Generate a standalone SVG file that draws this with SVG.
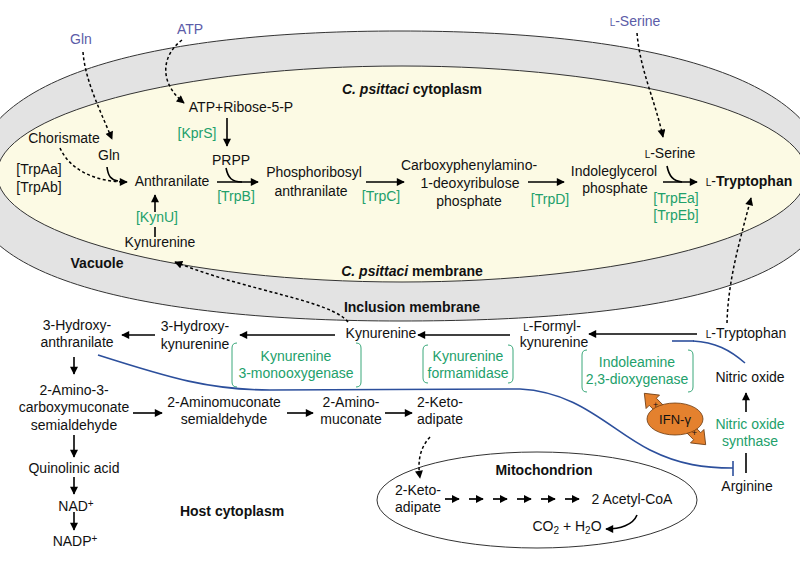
<svg xmlns="http://www.w3.org/2000/svg" width="800" height="566" viewBox="0 0 800 566">
<defs>
<marker id="ah" viewBox="0 0 10 10" refX="9" refY="5" markerWidth="9" markerHeight="8" markerUnits="userSpaceOnUse" orient="auto"><path d="M0,0 L10,5 L0,10 z" fill="#000"/></marker>
<marker id="ahs" viewBox="0 0 10 10" refX="9" refY="5" markerWidth="8" markerHeight="8" markerUnits="userSpaceOnUse" orient="auto"><path d="M0,0 L10,5 L0,10 z" fill="#000"/></marker>
</defs>
<style>
text{font-family:"Liberation Sans",Arial,sans-serif;font-size:14px;fill:#111;text-anchor:middle}
.b{font-weight:bold}
.g{fill:#22a06b}
.p{fill:#5c5ca8}
.sc{font-size:10px}
.ar{stroke:#000;stroke-width:1.6;fill:none;marker-end:url(#ah)}
.ln{stroke:#000;stroke-width:1.6;fill:none}
.ds{stroke:#000;stroke-width:1.5;fill:none;stroke-dasharray:3 2.5;marker-end:url(#ah)}
.br{stroke:#3aa87a;stroke-width:1;fill:none}
.bl{stroke:#2c4f9c;stroke-width:1.6;fill:none}
.ifn{fill:#e4812e;stroke:#6b3a10;stroke-width:0.8}
</style>
<rect width="800" height="566" fill="#fff"/>
<g id="vacuole">
<path d="M -30,188 C -30,70 170,31 400,31 C 630,31 830,70 830,188 C 830,290 640,321 400,321 C 170,321 -30,285 -30,188 Z" fill="#e3e3e3" stroke="#333" stroke-width="1"/>
<ellipse cx="402" cy="174" rx="405" ry="108" fill="#fcfae4" stroke="#333" stroke-width="1"/>
<text class="b" x="97" y="268">Vacuole</text>
<text class="b" x="412" y="312">Inclusion membrane</text>
<text class="b" x="412" y="94"><tspan font-style="italic">C. psittaci</tspan> cytoplasm</text>
<text class="b" x="412" y="276"><tspan font-style="italic">C. psittaci</tspan> membrane</text>
</g>
<g id="mitochondrion">
<ellipse cx="537" cy="500" rx="160" ry="48" fill="#fff" stroke="#333" stroke-width="1"/>
<text class="b" x="544" y="475">Mitochondrion</text>
</g>
<g id="ext-gln"><text class="p" x="81" y="44">Gln</text></g>
<g id="ext-atp"><text class="p" x="190" y="34">ATP</text></g>
<g id="ext-serine"><text class="p" x="635" y="26"><tspan class="sc">L</tspan>-Serine</text></g>
<g id="atp-ribose"><text x="241" y="112">ATP+Ribose-5-P</text></g>
<g id="kprs"><text class="g" x="197" y="138">[KprS]</text></g>
<g id="chorismate"><text x="64" y="143">Chorismate</text></g>
<g id="gln"><text x="109" y="160">Gln</text></g>
<g id="trpa"><text x="39" y="174">[TrpAa]</text><text x="39" y="192">[TrpAb]</text></g>
<g id="anthranilate"><text x="172" y="186">Anthranilate</text></g>
<g id="prpp"><text x="231" y="165">PRPP</text></g>
<g id="trpb"><text class="g" x="236" y="201">[TrpB]</text></g>
<g id="pr-anthranilate"><text x="314" y="177">Phosphoribosyl</text><text x="311" y="196">anthranilate</text></g>
<g id="trpc"><text class="g" x="381" y="201">[TrpC]</text></g>
<g id="cdrp"><text x="469" y="170">Carboxyphenylamino-</text><text x="470" y="188">1-deoxyribulose</text><text x="469" y="206">phosphate</text></g>
<g id="trpd"><text class="g" x="550" y="204">[TrpD]</text></g>
<g id="igp"><text x="614" y="176">Indoleglycerol</text><text x="615" y="193">phosphate</text></g>
<g id="serine"><text x="670" y="158"><tspan class="sc">L</tspan>-Serine</text></g>
<g id="tryptophan-c"><text x="749" y="186"><tspan class="sc">L</tspan>-<tspan class="b">Tryptophan</tspan></text></g>
<g id="trpe"><text class="g" x="676" y="203">[TrpEa]</text><text class="g" x="676" y="220">[TrpEb]</text></g>
<g id="kynu"><text class="g" x="157" y="222">[KynU]</text></g>
<g id="kynurenine-c"><text x="160" y="247">Kynurenine</text></g>
<g id="hydroxyanthranilate"><text x="77" y="330">3-Hydroxy-</text><text x="77" y="347">anthranilate</text></g>
<g id="hydroxykynurenine"><text x="195" y="331">3-Hydroxy-</text><text x="195" y="349">kynurenine</text></g>
<g id="kynurenine-h"><text x="381" y="338">Kynurenine</text></g>
<g id="formylkynurenine"><text x="552" y="331"><tspan class="sc">L</tspan>-Formyl-</text><text x="554" y="347">kynurenine</text></g>
<g id="tryptophan-h"><text x="746" y="338"><tspan class="sc">L</tspan>-Tryptophan</text></g>
<g id="kmo">
<path class="br" d="M237,343 Q232,343 232,348 L232,382 Q232,387 237,387 M356,343 Q361,343 361,348 L361,382 Q361,387 356,387"/>
<text class="g" x="296" y="361">Kynurenine</text><text class="g" x="296" y="378">3-monooxygenase</text>
</g>
<g id="kfa">
<path class="br" d="M428,345 Q423,345 423,350 L423,378 Q423,383 428,383 M508,345 Q513,345 513,350 L513,378 Q513,383 508,383"/>
<text class="g" x="468" y="361">Kynurenine</text><text class="g" x="468" y="378">formamidase</text>
</g>
<g id="ido">
<path class="br" d="M587,350 Q582,350 582,355 L582,387 Q582,392 587,392 M688,350 Q693,350 693,355 L693,387 Q693,392 688,392"/>
<text class="g" x="637" y="367">Indoleamine</text><text class="g" x="637" y="384">2,3-dioxygenase</text>
</g>
<g id="nitric-oxide"><text x="750" y="382">Nitric oxide</text></g>
<g id="nos"><text class="g" x="750" y="429">Nitric oxide</text><text class="g" x="750" y="446">synthase</text></g>
<g id="arginine"><text x="747" y="491">Arginine</text></g>
<g id="ifn">
<g transform="translate(662,411) rotate(-135)"><polygon class="ifn" points="0,-5 13,-5 13,-9.5 25,0 13,9.5 13,5 0,5"/><text x="9" y="3" transform="rotate(135 9 0)" style="font-size:9px">+</text></g>
<g transform="translate(688,427) rotate(45)"><polygon class="ifn" points="0,-5 13,-5 13,-9.5 25,0 13,9.5 13,5 0,5"/><text x="9" y="3" transform="rotate(-45 9 0)" style="font-size:9px">+</text></g>
<ellipse class="ifn" cx="675" cy="419" rx="28" ry="16"/>
<text x="675" y="424" style="font-size:13px">IFN-γ</text>
</g>
<g id="amino-carboxymuconate"><text x="74" y="395">2-Amino-3-</text><text x="74" y="412">carboxymuconate</text><text x="74" y="430">semialdehyde</text></g>
<g id="aminomuconate-sa"><text x="224" y="407">2-Aminomuconate</text><text x="224" y="424">semialdehyde</text></g>
<g id="aminomuconate"><text x="351" y="407">2-Amino-</text><text x="351" y="424">muconate</text></g>
<g id="ketoadipate-h"><text x="440" y="407">2-Keto-</text><text x="440" y="424">adipate</text></g>
<g id="quinolinic"><text x="74" y="473">Quinolinic acid</text></g>
<g id="nad"><text x="76" y="511">NAD<tspan dy="-4" style="font-size:10px">+</tspan></text></g>
<g id="nadp"><text x="75" y="546">NADP<tspan dy="-4" style="font-size:10px">+</tspan></text></g>
<g id="host-label"><text class="b" x="232" y="516">Host cytoplasm</text></g>
<g id="ketoadipate-m"><text x="418" y="495">2-Keto-</text><text x="418" y="512">adipate</text></g>
<g id="acetylcoa"><text x="632" y="504">2 Acetyl-CoA</text></g>
<g id="co2"><text x="567" y="531">CO<tspan dy="3" style="font-size:10px">2</tspan><tspan dy="-3"> + H</tspan><tspan dy="3" style="font-size:10px">2</tspan><tspan dy="-3">O</tspan></text></g>
<g id="connectors">
<path class="ds" d="M83,52 C85,80 100,110 112,139"/>
<path class="ds" d="M182,40 C162,55 158,82 184,103"/>
<path class="ds" d="M637,33 C640,70 655,100 663,137"/>
<path class="ds" d="M727,323 C728,280 740,240 751,198"/>
<path class="ds" d="M348,322 C330,300 250,292 175,262"/>
<path class="ds" d="M60,148 C70,170 95,182 127,182"/>
<path class="ds" d="M430,437 C418,450 418,465 420,478"/>
<path class="ar" d="M227,118 L227,146"/>
<path class="ln" d="M107,167 C108,176 111,180 118,181"/>
<path class="ar" d="M217,182 L258,182"/>
<path class="ln" d="M226,168 C228,178 232,182 242,182"/>
<path class="ar" d="M155,212 L155,195"/>
<path class="ln" d="M155,227 L155,237"/>
<path class="ar" d="M366,182 L404,182"/>
<path class="ar" d="M528,182 L564,182"/>
<path class="ar" d="M663,182 L697,182"/>
<path class="ln" d="M667,166 C669,176 673,181 682,182"/>
<path class="ar" d="M697,334 L589,334"/>
<path class="ar" d="M510,335 L418,335"/>
<path class="ar" d="M335,335 L240,335"/>
<path class="ar" d="M155,335 L122,335"/>
<path class="ar" d="M74,357 L74,374"/>
<path class="ar" d="M133,413 L162,413"/>
<path class="ar" d="M287,413 L313,413"/>
<path class="ar" d="M385,413 L412,413"/>
<path class="ar" d="M74,435 L74,457"/>
<path class="ar" d="M74,477 L74,494"/>
<path class="ar" d="M74,512 L74,530"/>
<path class="ar" d="M746,412 L746,393"/>
<path class="ln" d="M746,473 L746,453"/>
<g style="stroke:#000;stroke-width:1.7;fill:none;marker-end:url(#ahs)">
<path d="M445,499 L459,499"/><path d="M469,499 L483,499"/><path d="M493,499 L507,499"/><path d="M517,499 L531,499"/><path d="M541,499 L555,499"/><path d="M565,499 L579,499"/>
</g>
<path class="ar" d="M637,515 C633,525 620,529 606,529"/>
<path class="bl" d="M98,355 C170,378 210,390 270,390 L520,389 C580,392 610,430 650,450 C680,465 705,468 733,468"/>
<path class="bl" d="M733,461 L733,476"/>
<path class="bl" d="M745,363 C730,350 715,342 693,341"/>
<path class="bl" d="M672,341 L694,341"/>
</g>
</svg>
